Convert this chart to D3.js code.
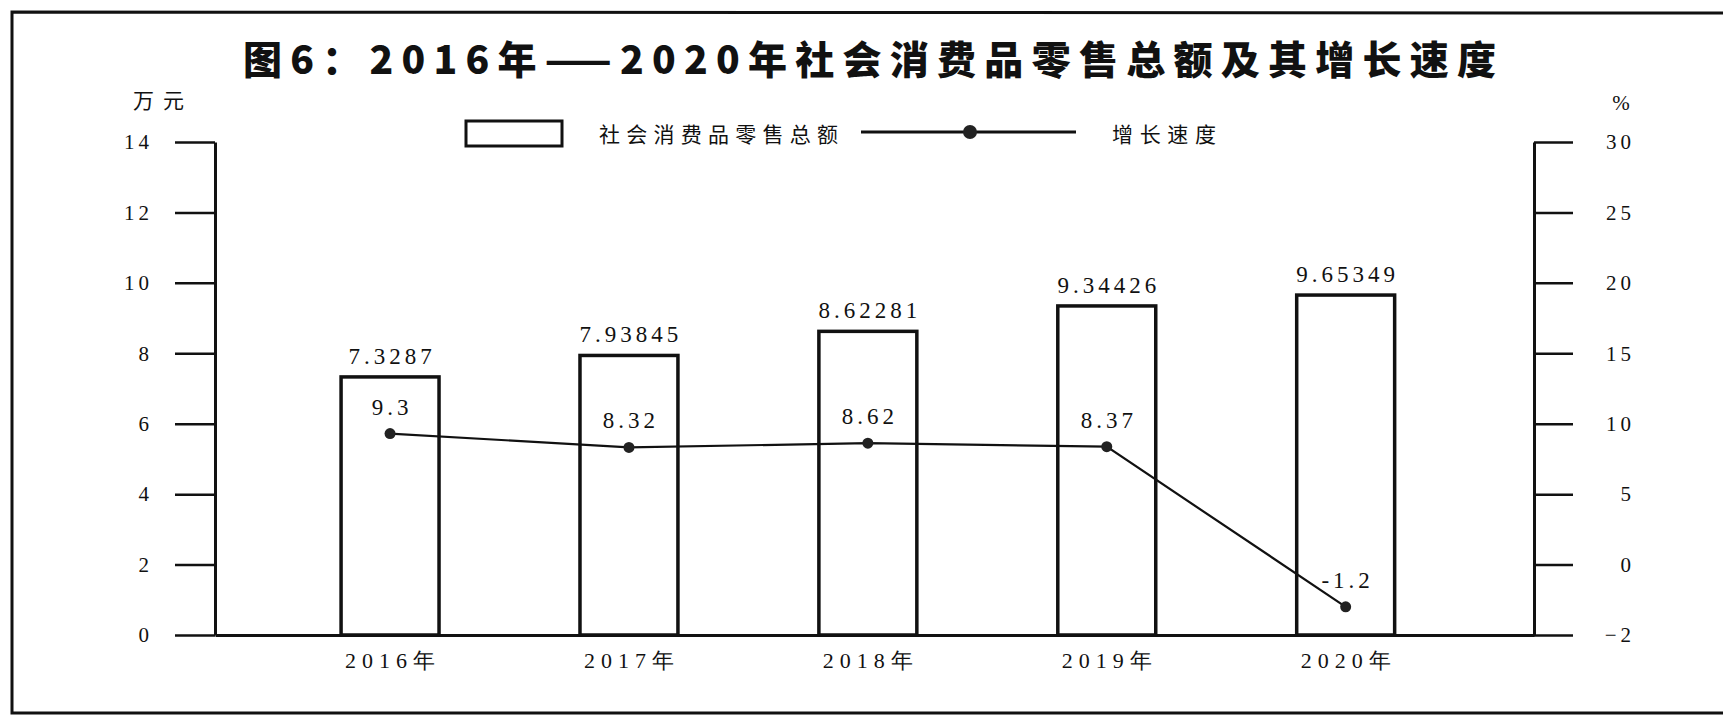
<!DOCTYPE html>
<html>
<head>
<meta charset="utf-8">
<script src="https://cdn.jsdelivr.net/npm/d3@7"></script>
<style>
  html, body { margin: 0; padding: 0; background: #fff; }
  svg { display: block; }
</style>
</head>
<body>
<svg id="chart" width="1723" height="722"></svg>
<script>
// ---- data ----
const years = ["2016年", "2017年", "2018年", "2019年", "2020年"];
const sales = [7.3287, 7.93845, 8.62281, 9.34426, 9.65349];
const salesLabels = ["7.3287", "7.93845", "8.62281", "9.34426", "9.65349"];
const growth = [9.3, 8.32, 8.62, 8.37, -1.2];
const growthLabels = ["9.3", "8.32", "8.62", "8.37", "-1.2"];
const leftTicks = [0, 2, 4, 6, 8, 10, 12, 14];
const rightTicks = [-2, 0, 5, 10, 15, 20, 25, 30];
const titleText = "图6：2016年——2020年社会消费品零售总额及其增长速度";
const leftUnit = "万元";
const rightUnit = "%";
const legendBar = "社会消费品零售总额";
const legendLine = "增长速度";

// ---- layout ----
const W = 1723, H = 722;
const plotLeft = 215, plotRight = 1534, plotTop = 142, plotBottom = 635;
const ink = "#111";
const numFont = "'Liberation Serif', 'DejaVu Serif', serif";
const cjkFont = "'Noto Sans CJK SC', sans-serif";

const svg = d3.select("#chart");
svg.append("rect").attr("width", W).attr("height", H).attr("fill", "#fff");

// frame (left, top, bottom; right side cut off)
svg.append("path")
  .attr("d", `M${W + 10},13 L12,12 L12,713 L${W + 10},713`)
  .attr("fill", "none").attr("stroke", ink).attr("stroke-width", 3);

// title
svg.append("text")
  .attr("x", 243).attr("y", 74)
  .attr("textLength", 1253).attr("lengthAdjust", "spacing")
  .attr("font-family", cjkFont).attr("font-weight", 900)
  .attr("font-size", 39).attr("fill", ink)
  .text(titleText);

// scales
const x = d3.scaleBand().domain(years).range([plotLeft, plotRight])
  .paddingInner(0.59).paddingOuter(0.5555).align(0.475);
const yL = d3.scaleLinear().domain([0, 14]).range([plotBottom, plotTop]);
const seg = (plotBottom - plotTop) / 7;
const yR = d3.scaleLinear().domain([-2, 0, 30]).range([plotBottom, plotBottom - seg, plotTop]);

// left axis
const gL = svg.append("g").attr("transform", `translate(${plotLeft},0)`)
  .call(d3.axisLeft(yL).tickValues(leftTicks).tickSize(40).tickSizeOuter(0).tickPadding(26));
gL.select(".domain").attr("stroke", ink).attr("stroke-width", 3);
gL.selectAll(".tick line").attr("stroke", ink).attr("stroke-width", 2.5);
gL.selectAll(".tick text").attr("font-family", numFont).attr("font-size", 21)
  .attr("letter-spacing", 4).attr("fill", ink).attr("dx", 4);

// right axis
const gR = svg.append("g").attr("transform", `translate(${plotRight},0)`)
  .call(d3.axisRight(yR).tickValues(rightTicks).tickSize(39).tickSizeOuter(0));
gR.select(".domain").attr("stroke", ink).attr("stroke-width", 3);
gR.selectAll(".tick line").attr("stroke", ink).attr("stroke-width", 2.5);
gR.selectAll(".tick text").attr("font-family", numFont).attr("font-size", 21)
  .attr("letter-spacing", 4).attr("fill", ink)
  .attr("text-anchor", "end").attr("x", 1631 + 4 - plotRight);

// bottom axis
const gB = svg.append("g").attr("transform", `translate(0,${plotBottom})`)
  .call(d3.axisBottom(x).tickSize(0).tickSizeOuter(0));
gB.select(".domain").attr("stroke", ink).attr("stroke-width", 3);
gB.selectAll(".tick text").attr("font-family", numFont).attr("font-size", 22)
  .attr("letter-spacing", 6).attr("fill", ink).attr("y", 33).attr("dy", 0).attr("dx", 3);

// units
svg.append("text").attr("x", 133).attr("y", 108)
  .attr("textLength", 51).attr("lengthAdjust", "spacing")
  .attr("font-family", cjkFont).attr("font-size", 21).attr("fill", ink).text(leftUnit);
svg.append("text").attr("x", 1621).attr("y", 110).attr("text-anchor", "middle")
  .attr("font-family", numFont).attr("font-size", 21).attr("fill", ink).text(rightUnit);

// bars
svg.append("g").selectAll("rect").data(sales).join("rect")
  .attr("x", (d, i) => x(years[i]))
  .attr("y", d => yL(d))
  .attr("width", x.bandwidth())
  .attr("height", d => yL(0) - yL(d))
  .attr("fill", "#fff").attr("stroke", ink).attr("stroke-width", 3.5);

svg.append("g").selectAll("text").data(salesLabels).join("text")
  .attr("x", (d, i) => x(years[i]) + x.bandwidth() / 2 + 2)
  .attr("y", (d, i) => yL(sales[i]) - 13)
  .attr("text-anchor", "middle")
  .attr("font-family", numFont).attr("font-size", 23).attr("letter-spacing", 4)
  .attr("fill", ink).text(d => d);

// growth line
const cx = (d, i) => x(years[i]) + x.bandwidth() / 2;
const line = d3.line().x((d, i) => cx(d, i)).y(d => yR(d));
svg.append("path").datum(growth).attr("d", line)
  .attr("fill", "none").attr("stroke", ink).attr("stroke-width", 2.2);
svg.append("g").selectAll("circle").data(growth).join("circle")
  .attr("cx", cx).attr("cy", d => yR(d)).attr("r", 5.5).attr("fill", "#222");
svg.append("g").selectAll("text").data(growthLabels).join("text")
  .attr("x", (d, i) => cx(d, i) + 2)
  .attr("y", (d, i) => yR(growth[i]) - 19)
  .attr("text-anchor", "middle")
  .attr("font-family", numFont).attr("font-size", 23).attr("letter-spacing", 4)
  .attr("fill", ink).text(d => d);

// legend
const lg = svg.append("g");
lg.append("rect").attr("x", 466).attr("y", 121).attr("width", 96).attr("height", 25)
  .attr("fill", "#fff").attr("stroke", ink).attr("stroke-width", 3);
lg.append("text").attr("x", 599).attr("y", 142)
  .attr("textLength", 239).attr("lengthAdjust", "spacing")
  .attr("font-family", cjkFont).attr("font-size", 21).attr("fill", ink).text(legendBar);
lg.append("line").attr("x1", 861).attr("x2", 1076).attr("y1", 132).attr("y2", 132)
  .attr("stroke", ink).attr("stroke-width", 3);
lg.append("circle").attr("cx", 970).attr("cy", 132).attr("r", 7).attr("fill", "#222");
lg.append("text").attr("x", 1112).attr("y", 142)
  .attr("textLength", 104).attr("lengthAdjust", "spacing")
  .attr("font-family", cjkFont).attr("font-size", 21).attr("fill", ink).text(legendLine);
</script>
</body>
</html>
